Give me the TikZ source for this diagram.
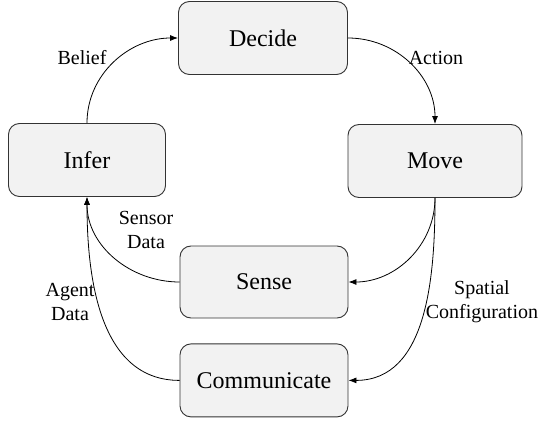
\documentclass[tikz,border=0pt]{standalone}
\usepackage{fontspec}
\setmainfont{Liberation Serif}
\usetikzlibrary{arrows.meta, positioning}

\begin{document}
\begin{tikzpicture}[x=1pt,y=-1pt,
    stage/.style={draw=black!80,fill=black!5,rounded corners=11pt,line width=0.9pt,
      minimum height=73pt,font=\fontsize{24}{28}\selectfont},
    flow/.style={-{Latex[length=8pt,width=6pt]},line width=0.8pt},
    lbl/.style={font=\fontsize{20}{24}\selectfont,align=center}]
    \useasboundingbox (0,0) rectangle (542,423);

    \node[stage,minimum width=169pt] (Decide) at (263,38) {Decide};
    \node[stage,minimum width=157pt] (Infer) at (87,160) {Infer};
    \node[stage,minimum width=174pt] (Move) at (435,161) {Move};
    \node[stage,minimum width=168pt,minimum height=72pt] (Sense) at (264,282) {Sense};
    \node[stage,minimum width=168pt,below=25pt of Sense] (Comm) {Communicate};

    \draw[flow] (Infer.north) to[out=90,in=180] (Decide.west);
    \draw[flow] (Decide.east) to[out=0,in=90] (Move.north);
    \draw[flow] (Move.south) to[out=-90,in=0] (Sense.east);
    \draw[flow] (Move.south) to[out=-90,in=0] (Comm.east);
    \draw[flow] (Sense.west) to[out=180,in=-90] (Infer.south);
    \draw[flow] (Comm.west) to[out=180,in=-90] (Infer.south);

    \node[lbl] (Lbelief) at (82,58) {Belief};
    \node[lbl] (Laction) at (436,58) {Action};
    \node[lbl] (Lsensor) at (146,230) {Sensor\\Data};
    \node[lbl] (Lagent) at (70,302) {Agent\\Data};
    \node[lbl] (Lspatial) at (482,302) {Spatial\\Configuration};
\end{tikzpicture}
\end{document}
